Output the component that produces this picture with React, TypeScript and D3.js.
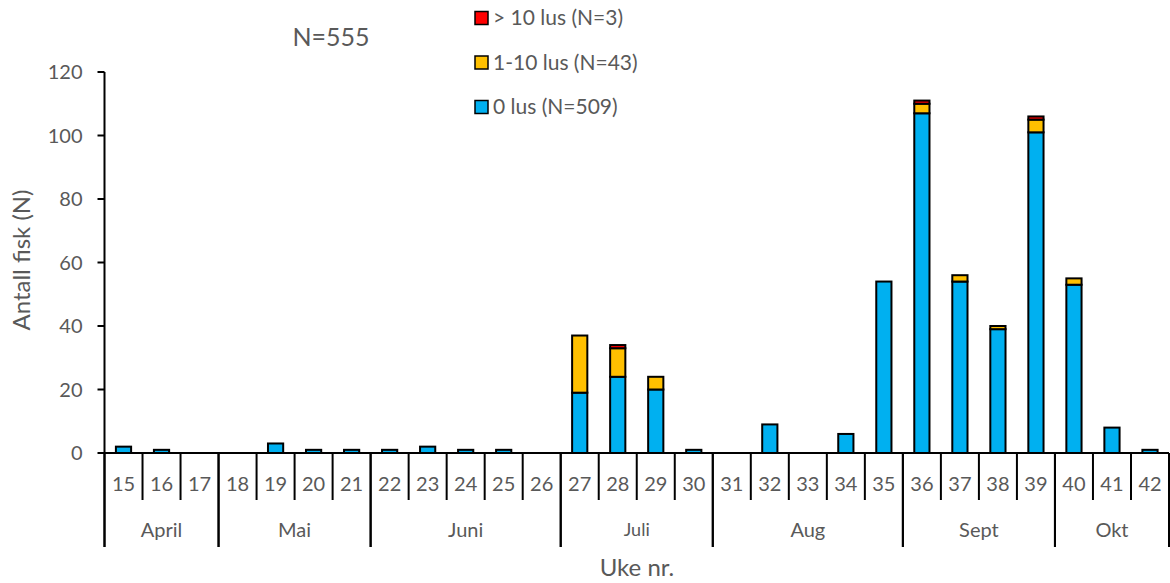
import React from "react";
import * as d3 from "d3";

const weeks = ["15","16","17","18","19","20","21","22","23","24","25","26","27","28","29","30","31","32","33","34","35","36","37","38","39","40","41","42"];
const lus0 = [2,1,0,0,3,1,1,1,2,1,1,0,19,24,20,1,0,9,0,6,54,107,54,39,101,53,8,1];
const lus1to10 = [0,0,0,0,0,0,0,0,0,0,0,0,18,9,4,0,0,0,0,0,0,3,2,1,4,2,0,0];
const lusOver10 = [0,0,0,0,0,0,0,0,0,0,0,0,0,1,0,0,0,0,0,0,0,1,0,0,1,0,0,0];
const months = [
  { name: "April", start: 0, count: 3 },
  { name: "Mai", start: 3, count: 4 },
  { name: "Juni", start: 7, count: 5 },
  { name: "Juli", start: 12, count: 4 },
  { name: "Aug", start: 16, count: 5 },
  { name: "Sept", start: 21, count: 4 },
  { name: "Okt", start: 25, count: 3 },
];
const yTicks = [0, 20, 40, 60, 80, 100, 120];
const seriesNames = ["0 lus (N=509)", "1-10 lus (N=43)", "> 10 lus (N=3)"];
const colors = ["#00B0F0", "#FFC000", "#FF0000"];

const W = 1170, H = 583;
const FONT = "Lato, 'Open Sans', sans-serif";
const TXT = "#595959";

export default function App() {
  const left = 104.5, right = 1169, top = 72, bottom = 453;
  const xb = d3.scaleBand<string>().domain(weeks).range([left, right]);
  const y = d3.scaleLinear().domain([0, 120]).range([bottom, top]);

  const table = weeks.map((w, i) => ({ week: w, s0: lus0[i], s1: lus1to10[i], s2: lusOver10[i] }));
  const stack = d3.stack<any>().keys(["s0", "s1", "s2"])(table);

  const step = xb.step();
  const bw = step * 0.4;

  return (
    <svg width={W} height={H} style={{ position: "absolute", left: 0, top: 0 }} fontFamily={FONT}>
      <rect width={W} height={H} fill="#fff" />
      {stack.map((layer, si) =>
        layer.map((d, i) => {
          const v = d[1] - d[0];
          if (v <= 0) return null;
          const cx = (xb(weeks[i]) as number) + step / 2;
          return (
            <rect key={si + "-" + i} x={cx - bw / 2} y={y(d[1])} width={bw} height={y(d[0]) - y(d[1])}
              fill={colors[si]} stroke="#000" strokeWidth={2} />
          );
        })
      )}
      <line x1={left} x2={left} y1={top} y2={547} stroke="#000" strokeWidth={2} />
      {yTicks.map((t) => (
        <g key={t}>
          <line x1={left - 7} x2={left} y1={y(t)} y2={y(t)} stroke="#000" strokeWidth={2} />
          <text x={left - 22} y={y(t)} dy="0.35em" textAnchor="end" fontSize={20} fill={TXT}>{t}</text>
        </g>
      ))}
      <line x1={left} x2={right} y1={bottom} y2={bottom} stroke="#000" strokeWidth={2} />
      {weeks.map((w, i) => {
        const x0 = xb(w) as number;
        const isMonthStart = months.some((m) => m.start === i);
        return (
          <g key={w}>
            {i > 0 && !isMonthStart && (
              <line x1={x0} x2={x0} y1={bottom} y2={500} stroke="#000" strokeWidth={2} />
            )}
            <text x={x0 + step / 2} y={484} dy="0.35em" textAnchor="middle" fontSize={20} fill={TXT}>{w}</text>
          </g>
        );
      })}
      {months.map((m) => {
        const x0 = xb(weeks[m.start]) as number;
        const x1 = x0 + m.count * step;
        return (
          <g key={m.name}>
            <line x1={x0} x2={x0} y1={bottom} y2={547} stroke="#000" strokeWidth={2} />
            <line x1={x1} x2={x1} y1={bottom} y2={547} stroke="#000" strokeWidth={2} />
            <text x={(x0 + x1) / 2} y={530} dy="0.35em" textAnchor="middle" fontSize={m.name === "Juli" ? 18 : 20} fill={TXT}>{m.name}</text>
          </g>
        );
      })}
      <text x={637} y={568} dy="0.35em" textAnchor="middle" fontSize={24} fill={TXT}>Uke nr.</text>
      <text transform="translate(22,260) rotate(-90)" dy="0.35em" textAnchor="middle" fontSize={24} fill={TXT}>Antall fisk (N)</text>
      <text x={331} y={37} dy="0.35em" textAnchor="middle" fontSize={25} fill={TXT}>N=555</text>
      {[2, 1, 0].map((si, k) => {
        const ly = 18 + k * 44.5;
        return (
          <g key={si}>
            <rect x={475} y={ly - 6.5} width={13} height={13} fill={colors[si]} stroke="#000" strokeWidth={1.5} />
            <text x={493} y={ly} dy="0.35em" fontSize={21} fill={TXT}>{seriesNames[si]}</text>
          </g>
        );
      })}
    </svg>
  );
}
